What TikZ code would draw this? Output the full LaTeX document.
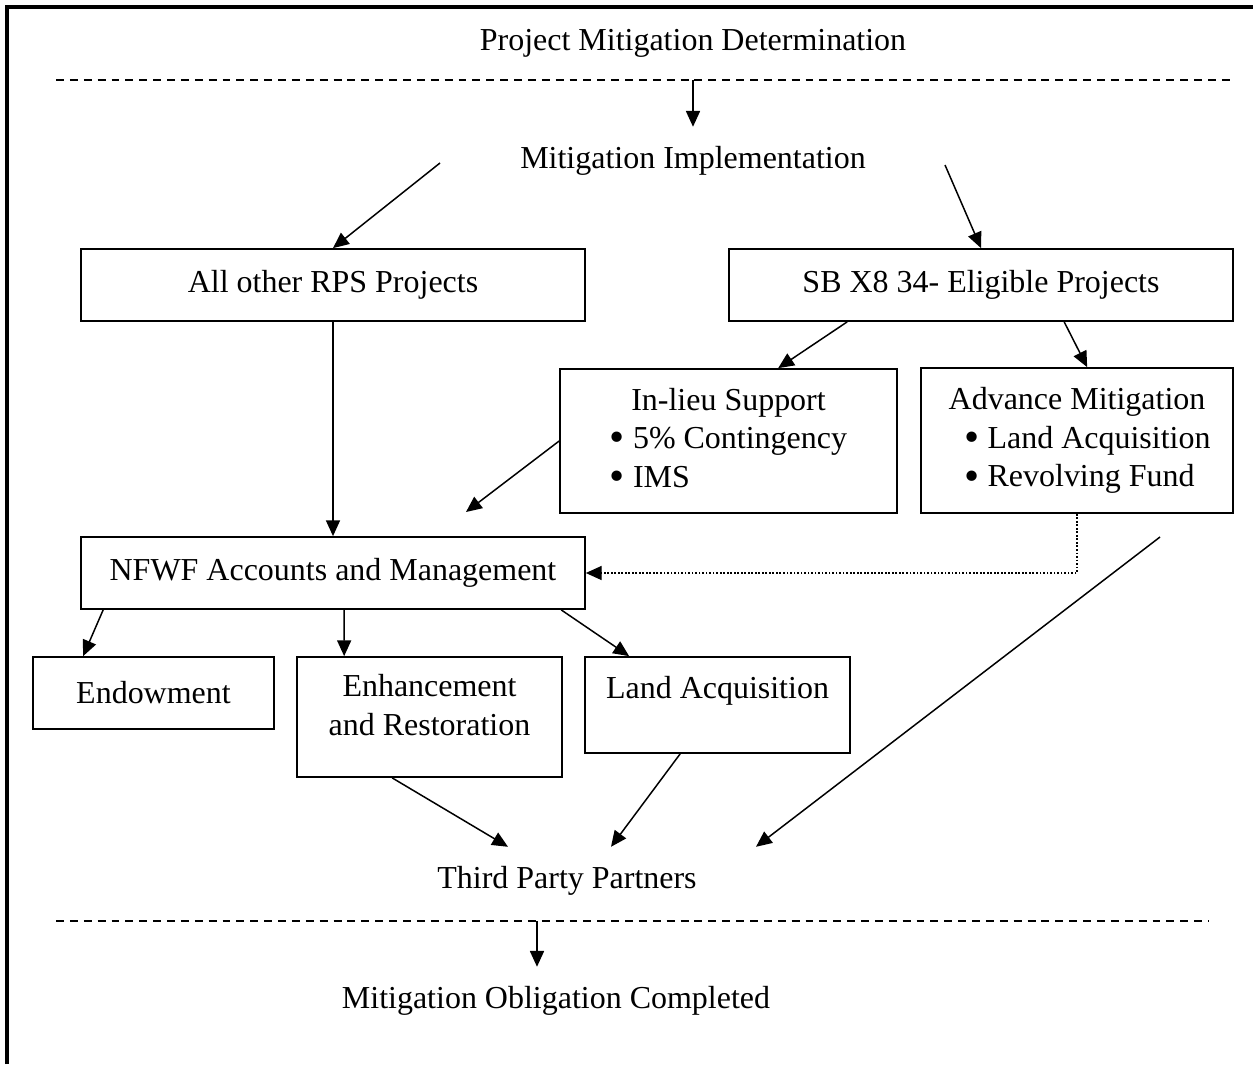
\documentclass[tikz,border=0pt]{standalone}
\usepackage{fontspec}
\setmainfont{Liberation Serif}
\usepackage{graphicx}
\usepackage{tikz}
\usetikzlibrary{positioning,arrows.meta,calc}

\newcommand{\lift}[2]{\raisebox{#1}[\height][\depth]{#2}}
\newcommand{\bul}{\raisebox{-0.1em}[0.5em][0pt]{\scalebox{1.35}{\textbullet}}\ }

\begin{document}
\begin{tikzpicture}[x=0.02cm, y=-0.02cm,
    font=\fontsize{18.2}{22}\selectfont,
    box/.style={draw, line width=1pt, inner sep=0pt, align=center},
    txt/.style={inner sep=11pt},
    arr/.style={-{Triangle[length=9pt,width=8pt]}, line width=0.85pt},
    sepline/.style={line width=1pt, dash pattern=on 4.5pt off 3.4pt}]
    % 
    \useasboundingbox (0,0) rectangle (1253,1064);
    \draw[line width=2.3pt] (7,1064) -- (7,7) -- (1253,7);

    % 
    \node[txt] (title) at (693,43) {Project Mitigation Determination};
    \coordinate (topL) at (56,80);
    \coordinate (topR) at (1233,80);
    \draw[sepline] (topL) -- (topR);
    \node[txt] (impl) at (693,161) {Mitigation Implementation};
    \draw[arr] (impl.north |- topL) -- (impl.north);

    % 
    \node[box, minimum width=10.08cm, minimum height=1.44cm] (allother) at (333,285) {All other RPS Projects};
    \node[box, minimum width=10.08cm, minimum height=1.44cm] (sbx8) at (981,285) {SB X8 34- Eligible Projects};
    \coordinate (implL) at (440,163);
    \coordinate (implR) at (945,165);
    \draw[arr] (implL) -- (allother.north);
    \draw[arr] (implR) -- (sbx8.north);

    % 
    \node[box, minimum width=6.74cm, minimum height=2.88cm] (inlieu) at (728.5,441)
        {\begin{tabular}{@{}l@{}}\multicolumn{1}{@{}c@{}}{In-lieu Support}\\
         \bul 5\% Contingency\\
         \bul IMS\end{tabular}};
    \node[box, minimum width=6.24cm, minimum height=2.9cm] (advance) at (1077,440.5)
        {\begin{tabular}{@{}l@{}}\multicolumn{1}{@{}c@{}}{Advance Mitigation}\\
         \hspace*{0.42cm}\bul Land Acquisition\\
         \hspace*{0.42cm}\bul Revolving Fund\end{tabular}};
    \draw[arr] ($(sbx8.south west)+(119,0)$) -- ($(inlieu.north west)+(219,0)$);
    \draw[arr] ($(sbx8.south west)+(336,0)$) -- ($(advance.north west)+(167,0)$);

    % 
    \node[box, minimum width=10.08cm, minimum height=1.44cm] (nfwf) at (333,573) {NFWF Accounts and Management};
    \draw[arr] (allother.south) -- (nfwf.north);
    \coordinate (inlEnd) at (466,512);
    \draw[arr] (inlieu.west) -- (inlEnd);
    \draw[arr, line width=0.7pt, dash pattern=on 1pt off 1pt] (advance.south) |- (nfwf.east);

    % 
    \node[box, minimum width=4.82cm, minimum height=1.44cm] (endow) at (153.5,693) {Endowment};
    \node[box, minimum width=5.3cm, minimum height=2.4cm] (enhance) at (429.5,717)
        {\lift{5pt}{\begin{tabular}{@{}c@{}}Enhancement\\and Restoration\end{tabular}}};
    \node[box, minimum width=5.3cm, minimum height=1.92cm] (land) at (717.5,705) {\lift{8pt}{Land Acquisition}};
    \foreach \s/\t/\e in {23/endow/51, 264/enhance/48, 481/land/45} {
        \draw[arr] ($(nfwf.south west)+(\s,0)$) -- ($(\t.north west)+(\e,0)$);
    }

    % 
    \node[txt] (third) at (567,881) {Third Party Partners};
    \coordinate (longS) at (1160,537);
    \draw[arr] ($(enhance.south west)+(96,0)$) -- ($(third.north)+(-59,0)$);
    \draw[arr] ($(land.south west)+(96,0)$) -- ($(third.north)+(44,0)$);
    \draw[arr] (longS) -- ($(third.north)+(189,0)$);

    % 
    \coordinate (botL) at (56,921);
    \coordinate (botR) at (1209,921);
    \draw[sepline] (botL) -- (botR);
    \node[txt] (done) at (556,1001) {Mitigation Obligation Completed};
    \coordinate (botA) at (537,921);
    \draw[arr] (botA) -- (botA |- done.north);
\end{tikzpicture}
\end{document}
